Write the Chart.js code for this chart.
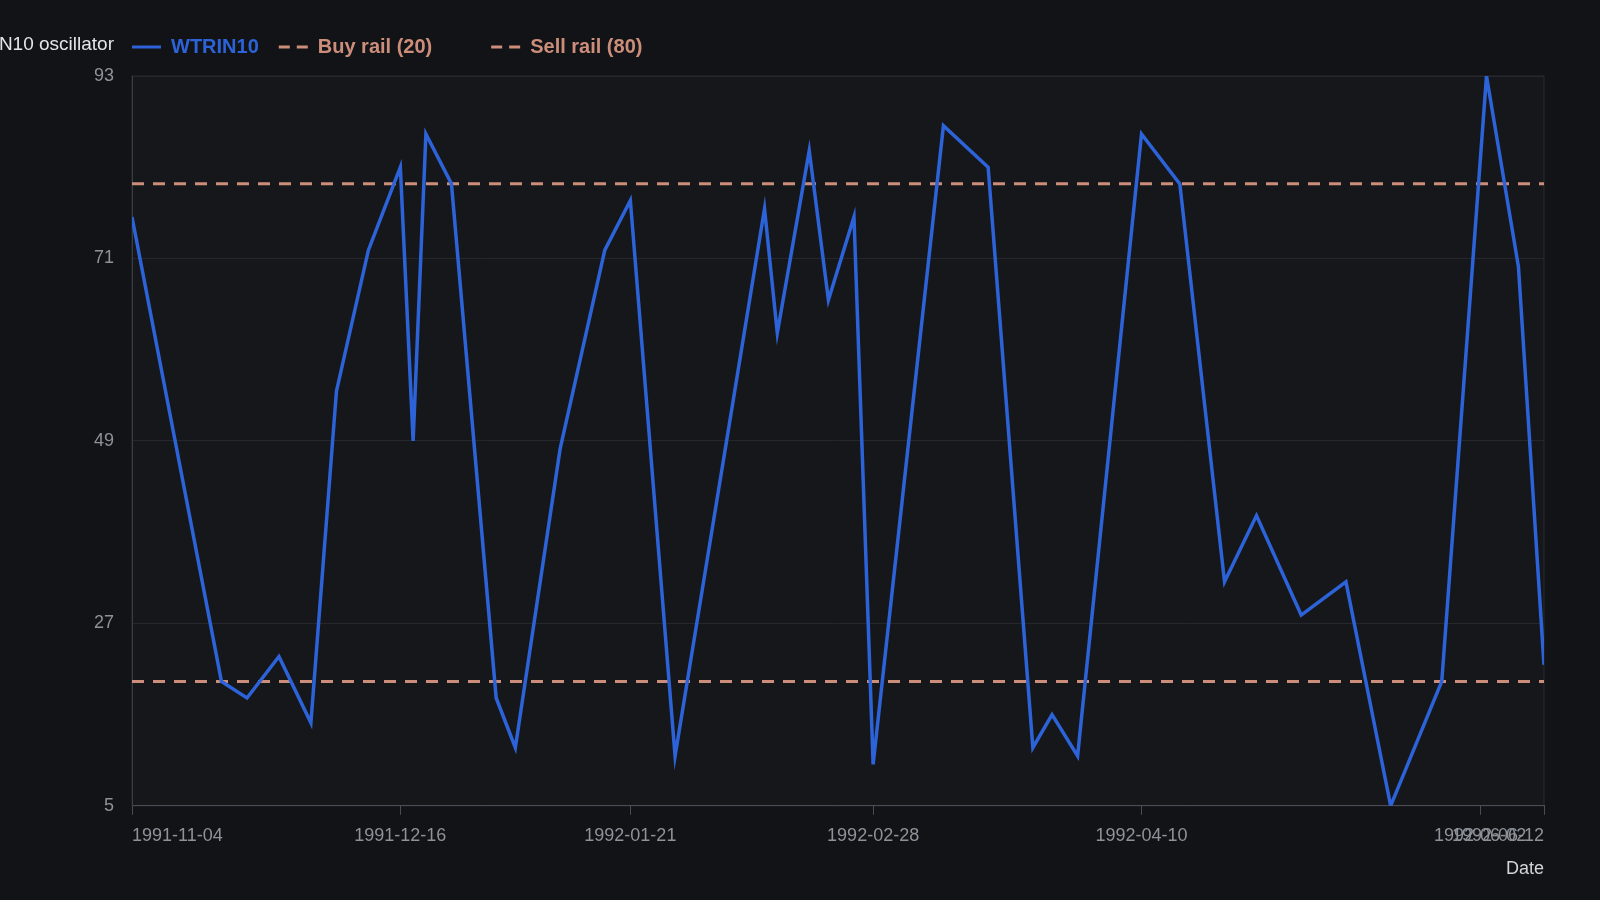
<!DOCTYPE html>
<html>
<head>
<meta charset="utf-8">
<title>WTRIN10 oscillator</title>
<script src="https://cdn.jsdelivr.net/npm/chart.js@4.4.1/dist/chart.umd.min.js"></script>
<style>
  html, body { margin: 0; padding: 0; background: #121317; }
  #wrap { width: 1600px; height: 900px; }
</style>
</head>
<body>
<div id="wrap"><canvas id="wtrinChart" width="1600" height="900"></canvas></div>
<script>
// readings of the WTRIN10 oscillator
var dates = [
    '1991-11-04', '1991-11-18', '1991-11-22', '1991-11-27', '1991-12-02', '1991-12-06',
    '1991-12-11', '1991-12-16', '1991-12-18', '1991-12-20', '1991-12-24', '1991-12-31',
    '1992-01-03', '1992-01-10', '1992-01-17', '1992-01-21', '1992-01-28', '1992-02-11',
    '1992-02-13', '1992-02-18', '1992-02-21', '1992-02-25', '1992-02-28', '1992-03-10',
    '1992-03-17', '1992-03-24', '1992-03-27', '1992-03-31', '1992-04-10', '1992-04-16',
    '1992-04-23', '1992-04-28', '1992-05-05', '1992-05-12', '1992-05-19', '1992-05-27',
    '1992-06-03', '1992-06-08', '1992-06-12'
];
var wtrin = [
    76, 20, 18, 23, 15, 55,
    72, 82, 49, 86, 80, 18,
    12, 48, 72, 78, 11, 77,
    62, 84, 66, 76, 10, 87,
    82, 12, 16, 11, 86, 80,
    32, 40, 28, 32, 5, 20,
    93, 70, 22
];
var buyLevel = 20;
var sellLevel = 80;
var tickDates = ['1991-11-04', '1991-12-16', '1992-01-21', '1992-02-28', '1992-04-10', '1992-06-02', '1992-06-12'];
var yMin = 5, yMax = 93, yStep = 22;

var DAY = 86400000;
var t0 = Date.UTC(1991, 10, 4);
function toDay(s) {
    var p = s.split('-');
    return (Date.UTC(+p[0], +p[1] - 1, +p[2]) - t0) / DAY;
}
function fromDay(d) {
    return new Date(t0 + Math.round(d) * DAY).toISOString().slice(0, 10);
}

var first = toDay(dates[0]);
var last = toDay(dates[dates.length - 1]);

var lineColor = '#2d63d8';
var railColor = '#cc8e7a';
var font = '"Liberation Sans", Arial, sans-serif';

// dark page + slightly lighter plot area
const bgPlugin = {
    id: 'darkBackground',
    beforeDraw: (chart) => {
        const { ctx, chartArea } = chart;
        ctx.save();
        ctx.fillStyle = '#121317';
        ctx.fillRect(0, 0, chart.width, chart.height);
        ctx.fillStyle = '#16171b';
        ctx.fillRect(chartArea.left, chartArea.top, chartArea.right - chartArea.left, chartArea.bottom - chartArea.top);
        ctx.strokeStyle = '#2a2c32';
        ctx.lineWidth = 1;
        ctx.strokeRect(chartArea.left, chartArea.top, chartArea.right - chartArea.left, chartArea.bottom - chartArea.top);
        ctx.restore();
    }
};

// legend row starts at the plot's left edge, a bit above the plot
const legendShift = {
    id: 'legendShift',
    afterLayout: (chart) => {
        const lg = chart.legend;
        lg.left = chart.chartArea.left - lg.options.labels.padding;
        lg.top -= 9;
        lg.bottom -= 9;
    }
};

// axis name drawn beside the legend row
const sideTitle = {
    id: 'sideTitle',
    afterDraw: (chart) => {
        const { ctx, chartArea, legend } = chart;
        const lbl = legend.options.labels;
        const y = legend.top + lbl.padding + lbl.font.size / 2;
        ctx.save();
        ctx.font = '19px ' + font;
        ctx.fillStyle = '#e4e5e8';
        ctx.textAlign = 'right';
        ctx.textBaseline = 'middle';
        ctx.fillText('WTRIN10 oscillator', chartArea.left - 18, y - 2);
        ctx.restore();
    }
};

var config = {
    type: 'line',
    data: {
        datasets: [
            {
                label: 'WTRIN10',
                data: dates.map((d, i) => ({ x: toDay(d), y: wtrin[i] })),
                borderColor: lineColor,
                backgroundColor: lineColor,
                borderWidth: 3.5,
                pointRadius: 0,
                pointStyle: 'line',
                tension: 0,
            },
            {
                label: 'Buy rail (20)       ',
                data: [{ x: first, y: buyLevel }, { x: last, y: buyLevel }],
                borderColor: railColor,
                backgroundColor: railColor,
                borderWidth: 3,
                borderDash: [12, 9],
                pointRadius: 0,
                pointStyle: 'line',
            },
            {
                label: 'Sell rail (80)',
                data: [{ x: first, y: sellLevel }, { x: last, y: sellLevel }],
                borderColor: railColor,
                backgroundColor: railColor,
                borderWidth: 3,
                borderDash: [12, 9],
                pointRadius: 0,
                pointStyle: 'line',
            },
        ],
    },
    options: {
        responsive: false,
        animation: false,
        devicePixelRatio: 1,
        layout: {
            padding: { top: 26, right: 56, bottom: 20, left: 0 },
        },
        plugins: {
            legend: {
                display: true,
                position: 'top',
                align: 'start',
                labels: {
                    usePointStyle: true,
                    pointStyleWidth: 29,
                    padding: 20,
                    font: { family: font, size: 20, weight: 'bold' },
                    generateLabels: (chart) => {
                        const items = Chart.defaults.plugins.legend.labels.generateLabels(chart);
                        items.forEach((it) => {
                            const ds = chart.data.datasets[it.datasetIndex];
                            it.fontColor = ds.borderColor;
                            it.strokeStyle = ds.borderColor;
                            it.lineWidth = 3;
                            it.lineDash = ds.borderDash ? [11, 7] : [];
                        });
                        return items;
                    },
                },
            },
            tooltip: { enabled: false },
        },
        scales: {
            x: {
                type: 'linear',
                min: first,
                max: last,
                afterBuildTicks: (scale) => {
                    scale.ticks = tickDates.map((d) => ({ value: toDay(d) }));
                },
                ticks: {
                    autoSkip: false,
                    maxRotation: 0,
                    align: 'inner',
                    padding: 10,
                    color: '#8e9299',
                    font: { family: font, size: 18 },
                    callback: (v) => fromDay(v),
                },
                grid: {
                    drawOnChartArea: false,
                    drawTicks: true,
                    tickLength: 9,
                    color: '#4a4d55',
                },
                border: { color: '#4a4d55' },
                title: {
                    display: true,
                    text: 'Date',
                    align: 'end',
                    color: '#d2d4d8',
                    font: { family: font, size: 18 },
                    padding: { top: 2, bottom: 0 },
                },
            },
            y: {
                min: yMin,
                max: yMax,
                afterFit: (scale) => { scale.width = 132; },
                ticks: {
                    stepSize: yStep,
                    padding: 18,
                    color: '#8e9299',
                    font: { family: font, size: 18 },
                },
                grid: {
                    color: '#25272d',
                    drawTicks: false,
                },
                border: { color: '#3a3d44' },
            },
        },
    },
    plugins: [bgPlugin, legendShift, sideTitle],
};

let wtrinChart = new Chart(
    document.getElementById('wtrinChart'),
    config
);
</script>
</body>
</html>
